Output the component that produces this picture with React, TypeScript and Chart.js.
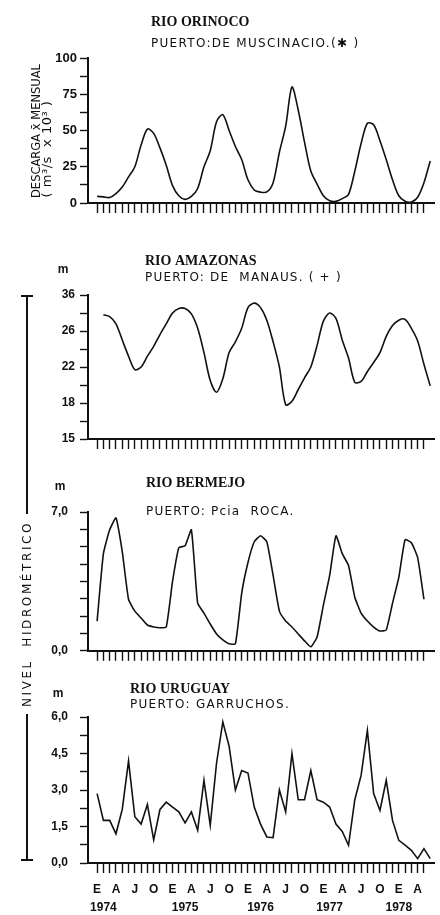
import React, { useEffect, useRef } from "react";
import { Chart, registerables } from "chart.js";

Chart.register(...registerables);

// ---------- DATA ----------
const QUARTER_LETTERS = ["E", "A", "J", "O"];
const YEARS = ["1974", "1975", "1976", "1977", "1978"];
const YEAR_LABEL_SHIFT = [1, 2, 2, 1, 0]; // month (within year) under which the year is printed

// Rio Orinoco, discharge (m3/s x 10^3), monthly Jan 1974 .. Jun 1978
const orinoco = [
  4.6, 4.2, 3.8, 6.5, 11, 18, 25, 40, 51, 48, 38, 26, 12, 5, 2.5, 4.5, 10, 25, 36, 56,
  61, 50, 39, 30, 16, 9, 7.5, 7.6, 14, 35, 53, 80, 64, 42, 22, 13, 5, 1.5, 1.1, 3,
  6, 22, 41, 55, 54, 43, 30, 16, 5, 1.2, 0.7, 4, 14, 29,
];

// Rio Amazonas (Manaus), level m
const amazonas = [
  null, 27.8, 27.6, 26.8, 25, 23.2, 21.7, 22, 23.2, 24.3, 25.6, 26.8, 28, 28.5, 28.5, 27.9, 26.3, 23.6, 20.5, 19.2,
  20.7, 23.6, 24.8, 26.3, 28.6, 29.1, 28.6, 27.2, 24.8, 22, 17.8, 18.2, 19.5, 20.8, 22, 24.4, 27.1, 28, 27.4, 25,
  23, 20.3, 20.4, 21.5, 22.5, 23.6, 25.4, 26.6, 27.2, 27.3, 26.3, 24.9, 22.3, 19.9,
];

// Rio Bermejo (Pcia Roca), level m
const bermejo = [
  1.5, 4.9, 6.1, 6.7, 5.0, 2.6, 2.0, 1.65, 1.3, 1.2, 1.16, 1.2, 3.5, 5.2, 5.3, 6.1, 2.4, 1.9, 1.35, 0.85,
  0.55, 0.35, 0.35, 2.9, 4.45, 5.5, 5.8, 5.5, 3.8, 2.0, 1.5, 1.2, 0.85, 0.5, 0.2, 0.7, 2.3, 3.8, 5.8, 4.9,
  4.3, 2.7, 1.9, 1.5, 1.2, 1.0, 1.05, 2.4, 3.7, 5.6, 5.45, 4.7, 2.6, null,
];

// Rio Uruguay (Garruchos), level m
const uruguay = [
  2.85, 1.75, 1.75, 1.2, 2.2, 4.2, 1.9, 1.6, 2.4, 0.95, 2.2, 2.5, 2.3, 2.1, 1.65, 2.1, 1.35, 3.4, 1.55, 4.1,
  5.8, 4.8, 3.0, 3.8, 3.7, 2.3, 1.6, 1.07, 1.04, 3.0, 2.1, 4.5, 2.6, 2.6, 3.8, 2.6, 2.5, 2.3, 1.6, 1.3,
  0.73, 2.6, 3.6, 5.45, 2.85, 2.16, 3.4, 1.75, 0.93, 0.73, 0.52, 0.18, 0.59, 0.18,
];

const amazonasYLabels: Record<number, string> = { 30: "36", 26: "26", 22: "22", 18: "18", 14: "15" };
const bermejoYLabels: Record<number, string> = { 0: "0,0", 7: "7,0" };

// ---------- STYLE ----------
const INK = "#111";
const X_MIN = -1.45;
const X_MAX = 53.6;
const LAST_MONTH = 53;
const TICK_FONT = "'Liberation Sans', Arial, sans-serif";
const SANS = "'DejaVu Sans', sans-serif";
const SERIF = "'Liberation Serif', 'DejaVu Serif', serif";

type TextItem = {
  text: string;
  x: number;
  y: number;
  font: string;
  align?: CanvasTextAlign;
  rotate?: number;
  spacing?: number;
};

function textPlugin(items: TextItem[]) {
  return {
    id: "panelTexts",
    afterDraw(chart: any) {
      const ctx = chart.ctx as CanvasRenderingContext2D;
      items.forEach((it) => {
        ctx.save();
        ctx.fillStyle = INK;
        ctx.font = it.font;
        ctx.textAlign = it.align || "left";
        ctx.textBaseline = "alphabetic";
        (ctx as any).letterSpacing = (it.spacing || 0) + "px";
        ctx.translate(it.x, it.y);
        if (it.rotate) ctx.rotate(it.rotate);
        ctx.fillText(it.text, 0, 0);
        ctx.restore();
      });
    },
  };
}

type PanelSpec = {
  key: string;
  top: number;
  height: number;
  padTop: number;
  xHeight: number;
  values: (number | null)[];
  yMin: number;
  yMax: number;
  yStep: number;
  yLabel: (v: number) => string;
  yFontSize: number;
  yPad: number;
  tension: number;
  showMonths: boolean;
  texts: TextItem[];
};

function monthLabel(value: number): string[] {
  const i = Math.round(value);
  const letter = i % 3 === 0 ? QUARTER_LETTERS[(i % 12) / 3] : "";
  const y = Math.floor(i / 12);
  const year = YEARS[y] !== undefined && i % 12 === YEAR_LABEL_SHIFT[y] ? YEARS[y] : "";
  return [letter, year];
}

function buildConfig(p: PanelSpec): any {
  const points: { x: number; y: number }[] = [];
  p.values.forEach((v, i) => {
    if (v !== null) points.push({ x: i, y: v });
  });
  const border = { display: true, color: INK, width: 2 };
  return {
    type: "line",
    data: {
      datasets: [
        {
          data: points,
          borderColor: INK,
          borderWidth: 1.6,
          pointRadius: 0,
          fill: false,
          tension: p.tension,
        },
      ],
    },
    options: {
      animation: false,
      responsive: false,
      maintainAspectRatio: false,
      layout: { padding: { top: p.padTop, right: 6, bottom: 0, left: 0 } },
      plugins: {
        legend: { display: false },
        tooltip: { enabled: false },
        title: { display: false },
      },
      scales: {
        x: {
          type: "linear",
          min: X_MIN,
          max: X_MAX,
          afterBuildTicks: (axis: any) => {
            axis.ticks = axis.ticks.filter(
              (t: any) => Math.abs(t.value - Math.round(t.value)) < 1e-6 && t.value >= 0 && t.value <= LAST_MONTH
            );
          },
          afterFit: (axis: any) => {
            axis.height = p.xHeight;
          },
          border,
          grid: {
            display: true,
            drawOnChartArea: false,
            drawTicks: true,
            tickLength: 10,
            tickWidth: 1.4,
            tickColor: INK,
            color: INK,
          },
          ticks: {
            display: p.showMonths,
            stepSize: 1,
            autoSkip: false,
            maxRotation: 0,
            minRotation: 0,
            padding: 8,
            color: INK,
            font: { family: TICK_FONT, size: 12, weight: "bold", lineHeight: 1.5 },
            callback: (value: number) => monthLabel(value),
          },
        },
        y: {
          type: "linear",
          min: p.yMin,
          max: p.yMax,
          afterFit: (axis: any) => {
            axis.width = 88;
          },
          border,
          grid: {
            display: true,
            drawOnChartArea: false,
            drawTicks: true,
            tickLength: 8,
            tickWidth: 1.4,
            tickColor: INK,
            color: INK,
          },
          ticks: {
            stepSize: p.yStep,
            autoSkip: false,
            padding: p.yPad,
            color: INK,
            font: { family: TICK_FONT, size: p.yFontSize, weight: "bold" },
            callback: (value: number) => p.yLabel(Math.round(value * 1000) / 1000),
          },
        },
      },
    },
    plugins: [textPlugin(p.texts)],
  };
}

const PANELS: PanelSpec[] = [
  {
    key: "orinoco",
    top: 0,
    height: 222,
    padTop: 58,
    xHeight: 19,
    values: orinoco,
    yMin: 0,
    yMax: 100,
    yStep: 12.5,
    yLabel: (v) => (v % 25 === 0 ? String(v) : ""),
    yFontSize: 13,
    yPad: 3,
    tension: 0.3,
    showMonths: false,
    texts: [
      { text: "RIO ORINOCO", x: 151, y: 26, font: `bold 14px ${SERIF}` },
      { text: "PUERTO:DE MUSCINACIO.(\u2731 )", x: 151, y: 47, font: `12px ${SANS}`, spacing: 1.3 },
      { text: "DESCARGA x\u0304 MENSUAL", x: 40, y: 131, font: `11.5px ${SANS}`, align: "center", rotate: -Math.PI / 2 },
      { text: "( m\u00b3/s  x 10\u00b3 )", x: 51, y: 149, font: `13px ${SANS}`, align: "center", rotate: -Math.PI / 2, spacing: 0.5 },
    ],
  },
  {
    key: "amazonas",
    top: 222,
    height: 238,
    padTop: 73,
    xHeight: 21,
    values: amazonas,
    yMin: 14,
    yMax: 30,
    yStep: 2,
    yLabel: (v) => amazonasYLabels[v] || "",
    yFontSize: 12,
    yPad: 5,
    tension: 0.3,
    showMonths: false,
    texts: [
      { text: "m", x: 63, y: 51, font: `bold 12px ${TICK_FONT}`, align: "center" },
      { text: "RIO AMAZONAS", x: 145, y: 43, font: `bold 14px ${SERIF}` },
      { text: "PUERTO: DE  MANAUS. ( + )", x: 145, y: 59, font: `12px ${SANS}`, spacing: 1.2 },
    ],
  },
  {
    key: "bermejo",
    top: 460,
    height: 210,
    padTop: 52,
    xHeight: 13,
    values: bermejo,
    yMin: 0,
    yMax: 7,
    yStep: 0.875,
    yLabel: (v) => bermejoYLabels[v] || "",
    yFontSize: 12,
    yPad: 12,
    tension: 0.15,
    showMonths: false,
    texts: [
      { text: "m", x: 60, y: 30, font: `bold 12px ${TICK_FONT}`, align: "center" },
      { text: "RIO BERMEJO", x: 146, y: 27, font: `bold 14px ${SERIF}` },
      { text: "PUERTO: Pcia  ROCA.", x: 146, y: 55, font: `12px ${SANS}`, spacing: 1.2 },
    ],
  },
  {
    key: "uruguay",
    top: 670,
    height: 245,
    padTop: 47,
    xHeight: 52,
    values: uruguay,
    yMin: 0,
    yMax: 6,
    yStep: 0.75,
    yLabel: (v) => (Math.abs(v / 1.5 - Math.round(v / 1.5)) < 1e-6 ? v.toFixed(1).replace(".", ",") : ""),
    yFontSize: 12,
    yPad: 12,
    tension: 0,
    showMonths: true,
    texts: [
      { text: "m", x: 58, y: 27, font: `bold 12px ${TICK_FONT}`, align: "center" },
      { text: "RIO URUGUAY", x: 130, y: 23, font: `bold 14px ${SERIF}` },
      { text: "PUERTO: GARRUCHOS.", x: 130, y: 38, font: `12px ${SANS}`, spacing: 1.3 },
    ],
  },
];

function ChartPanel({ spec }: { spec: PanelSpec }) {
  const ref = useRef<HTMLCanvasElement>(null);
  useEffect(() => {
    if (!ref.current) return;
    const chart = new Chart(ref.current, buildConfig(spec));
    return () => chart.destroy();
  }, [spec]);
  return (
    <canvas
      ref={ref}
      width={440}
      height={spec.height}
      style={{ position: "absolute", left: 0, top: spec.top, width: 440, height: spec.height }}
    />
  );
}

export default function App() {
  const line = (top: number, height: number) => (
    <div style={{ position: "absolute", left: 26, top, width: 1.6, height, background: INK }} />
  );
  const cap = (top: number) => (
    <div style={{ position: "absolute", left: 21, top, width: 12, height: 1.6, background: INK }} />
  );
  return (
    <div
      style={{
        position: "absolute",
        left: 0,
        top: 0,
        width: 440,
        height: 915,
        background: "#fff",
        overflow: "hidden",
      }}
    >
      {PANELS.map((p) => (
        <ChartPanel key={p.key} spec={p} />
      ))}
      {line(296, 218)}
      {cap(295)}
      {line(714, 146)}
      {cap(859)}
      <div
        style={{
          position: "absolute",
          left: 27,
          top: 614,
          transform: "translate(-50%, -50%) rotate(-90deg)",
          whiteSpace: "nowrap",
          fontFamily: SANS,
          fontSize: 12,
          letterSpacing: "2.6px",
          wordSpacing: "6px",
          color: INK,
          lineHeight: "14px",
        }}
      >
        NIVEL HIDROMÉTRICO
      </div>
    </div>
  );
}
